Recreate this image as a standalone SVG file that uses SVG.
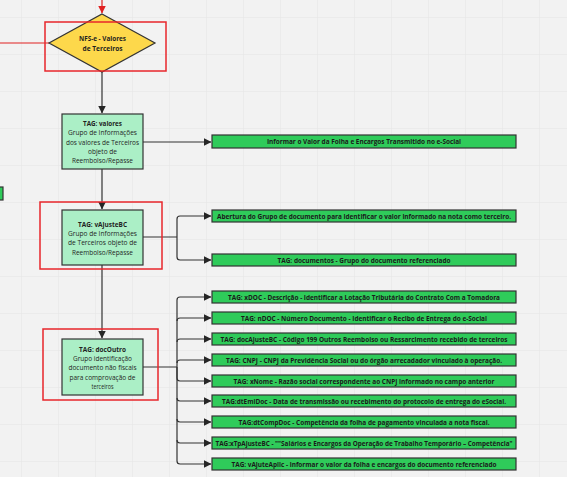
<svg xmlns="http://www.w3.org/2000/svg" width="567" height="477" viewBox="0 0 567 477">
<defs>
<pattern id="grid" x="21" y="17" width="37" height="37" patternUnits="userSpaceOnUse">
<path d="M0 0H37M0 0V37" fill="none" stroke="#e4e4e4" stroke-width="1"/>
</pattern>
<marker id="ah" viewBox="0 0 8 8" refX="7.5" refY="4" markerWidth="8" markerHeight="8" markerUnits="userSpaceOnUse" orient="auto">
<path d="M0 0L8 4L0 8Z" fill="#262626"/>
</marker>
<marker id="ahr" viewBox="0 0 8 8" refX="7.5" refY="4" markerWidth="8" markerHeight="8" markerUnits="userSpaceOnUse" orient="auto">
<path d="M0 0L8 4L0 8Z" fill="#e02020"/>
</marker>
</defs>
<style>
.c{fill:none;stroke:#333;stroke-width:1.2}
.cr{fill:none;stroke:#e02020;stroke-width:1.2}
.hl{fill:none;stroke:#e8262b;stroke-width:1.5}
.tag{fill:#abefc6;stroke:#333;stroke-width:1.2}
.g{fill:#2fcb5a;stroke:#333;stroke-width:1.2}
.t{font-family:"Open Sans","Noto Sans","DejaVu Sans",sans-serif;font-size:7px;fill:#1f1f1f;text-anchor:middle}
.b{font-weight:bold}
.gt{font-family:"Open Sans","Noto Sans","DejaVu Sans",sans-serif;font-size:6.5px;font-weight:bold;fill:#1a1a1a;text-anchor:middle}
</style>
<rect width="567" height="477" fill="#f2f2f2"/>
<rect width="567" height="477" fill="url(#grid)"/>

<g id="connectors">
<path class="cr" d="M102 0V13" marker-end="url(#ahr)"/>
<path class="cr" d="M0 43H49"/>
<path class="c" d="M102 72V113" marker-end="url(#ah)"/>
<path class="c" d="M143 142H211" marker-end="url(#ah)"/>
<path class="c" d="M102 169V209" marker-end="url(#ah)"/>
<path class="c" d="M143 237H177"/>
<path class="c" d="M177 237V219Q177 216 180 216H211" marker-end="url(#ah)"/>
<path class="c" d="M177 237V257Q177 260 180 260H211" marker-end="url(#ah)"/>
<path class="c" d="M102 265V338" marker-end="url(#ah)"/>
<path class="c" d="M143 367H177"/>
<path class="c" d="M177 367V300Q177 297 180 297H211" marker-end="url(#ah)"/>
<path class="c" d="M177 321Q177 318 180 318H211" marker-end="url(#ah)"/>
<path class="c" d="M177 342Q177 339 180 339H211" marker-end="url(#ah)"/>
<path class="c" d="M177 363Q177 360 180 360H211" marker-end="url(#ah)"/>
<path class="c" d="M177 367V378Q177 381 180 381H211" marker-end="url(#ah)"/>
<path class="c" d="M177 398Q177 401 180 401H211" marker-end="url(#ah)"/>
<path class="c" d="M177 419Q177 422 180 422H211" marker-end="url(#ah)"/>
<path class="c" d="M177 440Q177 443 180 443H211" marker-end="url(#ah)"/>
<path class="c" d="M177 367V461Q177 464 180 464H211" marker-end="url(#ah)"/>
</g>

<g id="stub-left">
<rect class="g" x="-6" y="187" width="9" height="13"/>
</g>

<g id="nfse">
<polygon points="102,14 155,43 102,72 49,43" fill="#fdd84b" stroke="#333" stroke-width="1.2"/>
<text class="t b" x="102.5" y="41" textLength="47" lengthAdjust="spacingAndGlyphs">NFS-e - Valores</text>
<text class="t b" x="102.5" y="50.5" textLength="40" lengthAdjust="spacingAndGlyphs">de Terceiros</text>
<rect class="hl" x="45" y="22" width="121" height="49"/>
</g>

<g id="valores">
<rect class="tag" x="62" y="114" width="81" height="55"/>
<text class="t b" x="102.5" y="125.5" textLength="39" lengthAdjust="spacingAndGlyphs">TAG: valores</text>
<text class="t" x="102.5" y="135" textLength="69" lengthAdjust="spacingAndGlyphs">Grupo de Informações</text>
<text class="t" x="102.5" y="144.5" textLength="73" lengthAdjust="spacingAndGlyphs">dos valores de Terceiros</text>
<text class="t" x="102.5" y="154" textLength="29" lengthAdjust="spacingAndGlyphs">objeto de</text>
<text class="t" x="102.5" y="163" textLength="61" lengthAdjust="spacingAndGlyphs">Reembolso/Repasse</text>
</g>

<g id="vAjusteBC">
<rect class="tag" x="62" y="210" width="81" height="55"/>
<text class="t b" x="102.5" y="226.5" textLength="49" lengthAdjust="spacingAndGlyphs">TAG: vAjusteBC</text>
<text class="t" x="102.5" y="236" textLength="69" lengthAdjust="spacingAndGlyphs">Grupo de Informações</text>
<text class="t" x="102.5" y="245" textLength="69" lengthAdjust="spacingAndGlyphs">de Terceiros objeto de</text>
<text class="t" x="102.5" y="254.5" textLength="61" lengthAdjust="spacingAndGlyphs">Reembolso/Repasse</text>
<rect class="hl" x="40" y="202" width="122" height="67"/>
</g>

<g id="docOutro">
<rect class="tag" x="62" y="339" width="81" height="56"/>
<text class="t b" x="102.5" y="351.5" textLength="47" lengthAdjust="spacingAndGlyphs">TAG: docOutro</text>
<text class="t" x="102.5" y="361" textLength="59" lengthAdjust="spacingAndGlyphs">Grupo identificação</text>
<text class="t" x="102.5" y="370" textLength="68" lengthAdjust="spacingAndGlyphs">documento não fiscais</text>
<text class="t" x="102.5" y="379.5" textLength="66" lengthAdjust="spacingAndGlyphs">para comprovação de</text>
<text class="t" x="102.5" y="388.5" textLength="22" lengthAdjust="spacingAndGlyphs">terceiros</text>
<rect class="hl" x="43" y="329" width="115" height="71"/>
</g>

<g id="n-informar">
<rect class="g" x="212" y="135" width="304" height="13"/>
<text class="gt" x="364" y="144" textLength="194" lengthAdjust="spacingAndGlyphs">Informar o Valor da Folha e Encargos Transmitido no e-Social</text>
</g>
<g id="n-abertura">
<rect class="g" x="212" y="210" width="304" height="12"/>
<text class="gt" x="364" y="218.5" textLength="294" lengthAdjust="spacingAndGlyphs">Abertura do Grupo de documento para identificar o valor informado na nota como terceiro.</text>
</g>
<g id="n-documentos">
<rect class="g" x="212" y="254" width="304" height="12"/>
<text class="gt" x="364" y="262.5" textLength="173" lengthAdjust="spacingAndGlyphs">TAG: documentos - Grupo do documento referenciado</text>
</g>

<g id="n-xDOC">
<rect class="g" x="212" y="291" width="304" height="12"/>
<text class="gt" x="364" y="299.5" textLength="272" lengthAdjust="spacingAndGlyphs">TAG: xDOC - Descrição - Identificar a Lotação Tributária do Contrato Com a Tomadora</text>
</g>
<g id="n-nDOC">
<rect class="g" x="212" y="312" width="304" height="12"/>
<text class="gt" x="364" y="320.5" textLength="246" lengthAdjust="spacingAndGlyphs">TAG: nDOC - Número Documento - Identificar o Recibo de Entrega do e-Social</text>
</g>
<g id="n-docAjusteBC">
<rect class="g" x="212" y="333" width="304" height="12"/>
<text class="gt" x="364" y="341.5" textLength="287" lengthAdjust="spacingAndGlyphs">TAG: docAjusteBC - Código 199 Outros Reembolso ou Ressarcimento recebido de terceiros</text>
</g>
<g id="n-CNPJ">
<rect class="g" x="212" y="354" width="304" height="12"/>
<text class="gt" x="364" y="362.5" textLength="276" lengthAdjust="spacingAndGlyphs">TAG: CNPJ - CNPJ da Previdência Social ou do órgão arrecadador vinculado à operação.</text>
</g>
<g id="n-xNome">
<rect class="g" x="212" y="375" width="304" height="12"/>
<text class="gt" x="364" y="383.5" textLength="261" lengthAdjust="spacingAndGlyphs">TAG: xNome - Razão social correspondente ao CNPJ informado no campo anterior</text>
</g>
<g id="n-dtEmiDoc">
<rect class="g" x="212" y="395" width="304" height="12"/>
<text class="gt" x="364" y="403.5" textLength="284" lengthAdjust="spacingAndGlyphs">TAG:dtEmiDoc - Data de transmissão ou recebimento do protocolo de entrega do eSocial.</text>
</g>
<g id="n-dtCompDoc">
<rect class="g" x="212" y="416" width="304" height="12"/>
<text class="gt" x="364" y="424.5" textLength="251" lengthAdjust="spacingAndGlyphs">TAG:dtCompDoc - Competência da folha de pagamento vinculada a nota fiscal.</text>
</g>
<g id="n-xTpAjusteBC">
<rect class="g" x="212" y="437" width="304" height="12"/>
<text class="gt" x="364" y="445.5" textLength="297" lengthAdjust="spacingAndGlyphs">TAG:xTpAjusteBC - ""Salários e Encargos da Operação de Trabalho Temporário – Competência"</text>
</g>
<g id="n-vAjuteAplic">
<rect class="g" x="212" y="458" width="304" height="12"/>
<text class="gt" x="364" y="466.5" textLength="265" lengthAdjust="spacingAndGlyphs">TAG: vAjuteAplic - informar o valor da folha e encargos do documento referenciado</text>
</g>
</svg>
